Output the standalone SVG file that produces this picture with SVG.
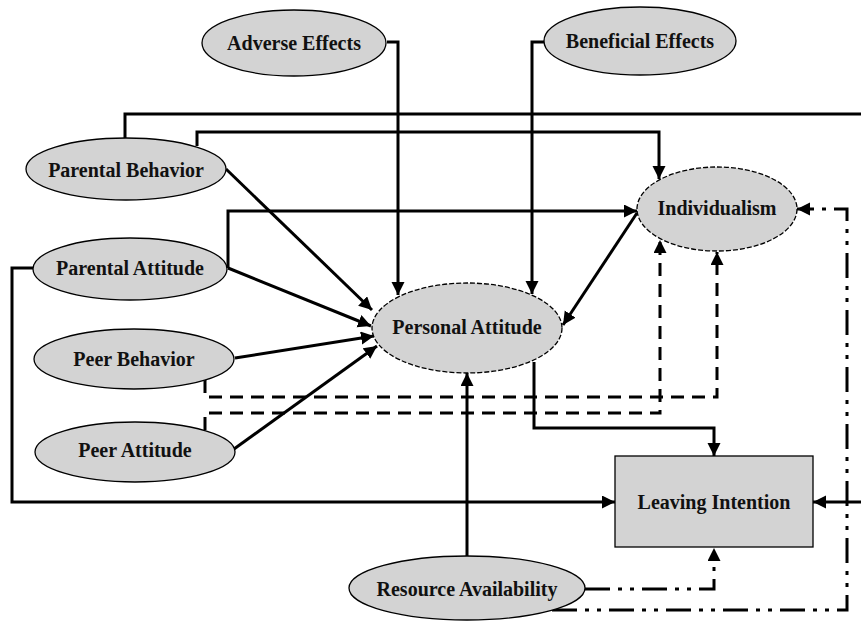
<svg xmlns="http://www.w3.org/2000/svg" width="861" height="622" viewBox="0 0 861 622">
<style>
.node{fill:#d3d3d3;stroke:#000;stroke-width:1.3}
.dn{stroke-dasharray:5 2}
.lbl{font-family:"Liberation Serif","Times New Roman",serif;font-weight:bold;font-size:20px;fill:#111;text-anchor:middle}
.c{fill:none;stroke:#000;stroke-width:3;stroke-linejoin:miter}
.dash{stroke-dasharray:13 8}
.dd{stroke-dasharray:25 8 4 8 4 8}
.a{marker-end:url(#arr)}
</style>
<defs>
<marker id="arr" markerUnits="userSpaceOnUse" markerWidth="14" markerHeight="14" refX="13" refY="6.5" orient="auto">
<path d="M0,0 L13,6.5 L0,13 z" fill="#000"/>
</marker>
</defs>
<rect width="861" height="622" fill="#fff"/>
<g id="connectors">
<path class="c a" d="M387,42 H398 V295"/>
<path class="c a" d="M544,42 H532 V294"/>
<path class="c" d="M125,138 V114 H861"/>
<path class="c a" d="M197,146 V132 H659 V179"/>
<path class="c a" d="M226,169 L372,310"/>
<path class="c a" d="M228,268 L371,326"/>
<path class="c a" d="M228,268 V211 H637"/>
<path class="c a" d="M235,358 L374,336"/>
<path class="c a" d="M234,449 L377,346"/>
<path class="c a" d="M637,213 L563,325"/>
<path class="c a" d="M534,362 V428 H714 V456"/>
<path class="c a" d="M33,268 H12 V502 H615"/>
<path class="c a" d="M467,556 V373"/>
<path class="c a" d="M861,502 H813"/>
<path class="c dash a" d="M205,380 V397 H717 V252"/>
<path class="c dash a" d="M205,430 V413 H660 V240"/>
<path class="c dd a" d="M585,589 H714 V548"/>
<path class="c dd a" d="M552,610 H847 V209 H797"/>
</g>
<g id="adverse-effects">
<ellipse class="node" cx="294" cy="43" rx="92" ry="33"/>
<text class="lbl" x="294" y="50">Adverse Effects</text>
</g>
<g id="beneficial-effects">
<ellipse class="node" cx="640" cy="41" rx="96" ry="34"/>
<text class="lbl" x="640" y="48">Beneficial Effects</text>
</g>
<g id="parental-behavior">
<ellipse class="node" cx="126" cy="169" rx="100" ry="31"/>
<text class="lbl" x="126" y="177">Parental Behavior</text>
</g>
<g id="individualism">
<ellipse class="node dn" cx="717" cy="209" rx="80" ry="42"/>
<text class="lbl" x="717" y="215">Individualism</text>
</g>
<g id="parental-attitude">
<ellipse class="node" cx="130" cy="269" rx="97" ry="31"/>
<text class="lbl" x="130" y="275">Parental Attitude</text>
</g>
<g id="personal-attitude">
<ellipse class="node dn" cx="467" cy="328" rx="95" ry="45"/>
<text class="lbl" x="467" y="334">Personal Attitude</text>
</g>
<g id="peer-behavior">
<ellipse class="node" cx="134" cy="359" rx="100" ry="30"/>
<text class="lbl" x="134" y="366">Peer Behavior</text>
</g>
<g id="peer-attitude">
<ellipse class="node" cx="135" cy="452" rx="100" ry="30"/>
<text class="lbl" x="135" y="457">Peer Attitude</text>
</g>
<g id="leaving-intention">
<rect class="node" x="615" y="456" width="198" height="91"/>
<text class="lbl" x="714" y="509">Leaving Intention</text>
</g>
<g id="resource-availability">
<ellipse class="node" cx="467" cy="588" rx="118" ry="32"/>
<text class="lbl" x="467" y="596">Resource Availability</text>
</g>
</svg>
